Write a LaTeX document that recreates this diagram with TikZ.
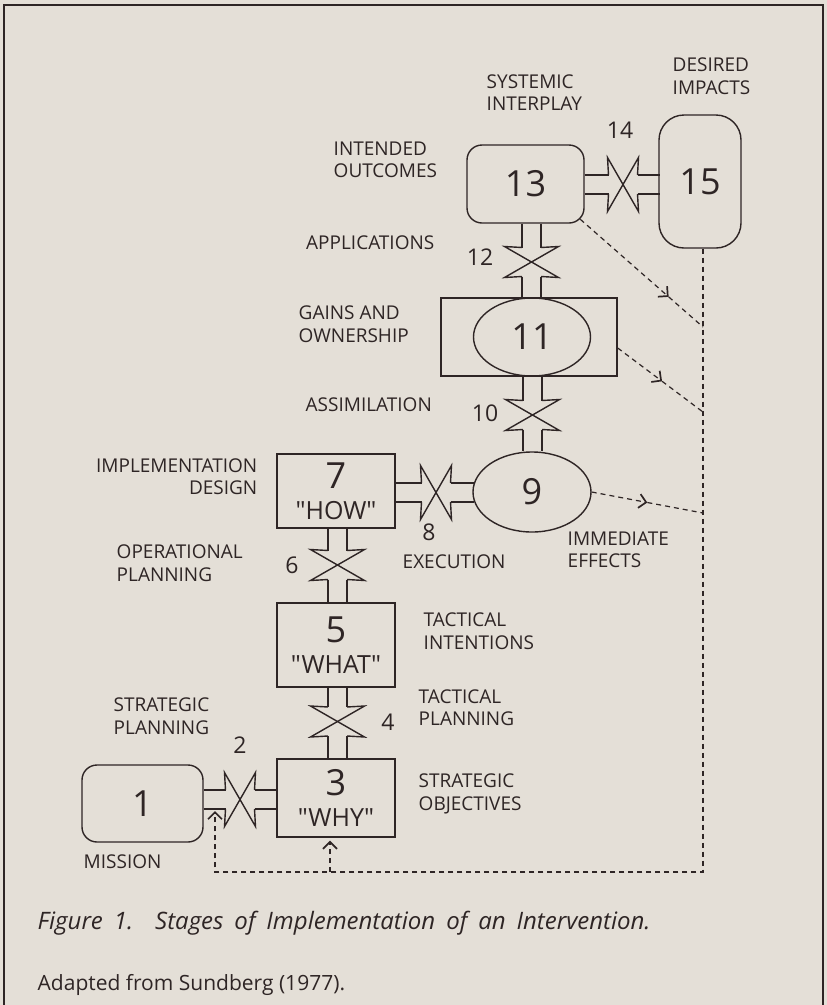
\documentclass[tikz,border=0pt]{standalone}
\usepackage{fontspec}
\setmainfont{Open Sans}[Ligatures=TeXOff]
\usepackage{xcolor}
\definecolor{Paper}{HTML}{E4DFD7}
\definecolor{Ink}{HTML}{2E2525}
\usepackage{tikz}
\usetikzlibrary{calc,arrows.meta,shapes.geometric}

\newcommand{\stagenum}{\fontsize{36}{31}\selectfont}

\tikzset{pics/valve/.style={code={
 \draw (-14.5,-9.5) -- (-15.5,-27) -- (15.5,27) -- (14.5,9.5);
 \draw (14.5,-9.5) -- (15.5,-27) -- (-15.5,27) -- (-14.5,9.5);
}}}

\begin{document}
\begin{tikzpicture}[x=1pt,y=-1pt,color=Ink,line width=1.4pt,
 box/.style={draw,rectangle,inner sep=0pt,align=center,font=\fontsize{25}{31}\selectfont},
 rbox/.style={draw,rectangle,rounded corners=15pt,inner sep=0pt,font=\stagenum},
 oval/.style={draw,ellipse,inner sep=0pt,font=\stagenum},
 lbl/.style={inner sep=0pt,font=\fontsize{19}{22.5}\selectfont},
 num/.style={inner sep=0pt,font=\fontsize{23}{23}\selectfont},
 flow/.style={line width=1.2pt,dash pattern=on 5pt off 4pt},
 tip/.style={-{Straight Barb[length=7pt,width=14pt,line width=1.7pt]}}]
\useasboundingbox (0,0) rectangle (827,1005);
\fill[Paper] (0,0) rectangle (827,1005);
\draw[line width=2.2pt] (4,1012) -- (4,5) -- (823,5) -- (823,1012);

% stages
\node[rbox,minimum width=121pt,minimum height=77pt] (n1) at (142.5,803.5) {1};
\node[box,minimum width=118pt,minimum height=78pt] (n3) at (336,798) {{\stagenum 3}\\"WHY"};
\node[box,minimum width=118pt,minimum height=84pt] (n5) at (336,645) {{\stagenum 5}\\"WHAT"};
\node[box,minimum width=118pt,minimum height=74pt] (n7) at (336,491) {{\stagenum 7}\\"HOW"};
\node[oval,minimum width=118pt,minimum height=80pt] (n9) at (532,492) {9};
\node[draw,rectangle,minimum width=176pt,minimum height=78pt] (n11box) at (529,337) {};
\node[oval,minimum width=117pt,minimum height=78pt] (n11) at (532,337) {11};
\node[rbox,minimum width=117pt,minimum height=78pt] (n13) at (525.5,184) {13};
\node[rbox,rounded corners=25pt,minimum width=82pt,minimum height=133pt] (n15) at (700,181.5) {15};

% valves
\coordinate (v2) at (240,799.5);
\coordinate (v4) at (337.5,721.5);
\coordinate (v6) at (337.5,565);
\coordinate (v8) at (436,492.5);
\coordinate (v10) at (532.5,415);
\coordinate (v12) at (531.5,262);
\coordinate (v14) at (623,184.5);
\foreach \a/\b/\v in {n1/n3/v2,n7/n9/v8,n13/n15/v14} {
 \pic at (\v) {valve};
 \foreach \s in {-9.5,9.5}
  \draw ($(\a.east |- \v)+(0,\s)$) -- ($(\v)+(-14.5,\s)$)
        ($(\v)+(14.5,\s)$) -- ($(\b.west |- \v)+(1.5,\s)$);
}
\foreach \a/\b/\v in {n5/n3/v4,n7/n5/v6,n11box/n9/v10,n13/n11box/v12} {
 \pic[rotate=90] at (\v) {valve};
 \foreach \s in {-9.5,9.5}
  \draw ($(\a.south -| \v)+(\s,0)$) -- ($(\v)+(\s,-14.5)$)
        ($(\v)+(\s,14.5)$) -- ($(\b.north -| \v)+(\s,0)$);
}

% feedback
\coordinate (s13) at ($(n13.south east)+(-4.4,-4.4)$);
\coordinate (s11) at ($(n11box.east)+(0,11)$);
\coordinate (j13) at (703,327);
\coordinate (j11) at (703,412);
\coordinate (j9) at (703,513);
\coordinate (jb) at (703,872);
\coordinate (jl) at (215,872);
\coordinate (jm) at (330,872);
\coordinate (a13) at ($(s13)!0.72!(j13)$);
\coordinate (a11) at ($(s11)!0.52!(j11)$);
\coordinate (a9) at ($(n9.east)!0.5!(j9)$);
\draw[flow,tip] (s13) -- (a13);
\draw[flow] (a13) -- (j13);
\draw[flow,tip] (s11) -- (a11);
\draw[flow] (a11) -- (j11);
\draw[flow,tip] (n9.east) -- (a9);
\draw[flow] (a9) -- (j9);
\draw[flow,tip] (n15.south -| jb) -- (jb) -- (jl) -- ($(jl |- v2)+(0,11.5)$);
\draw[flow,tip,shorten >=3pt] (jm) -- (jm |- n3.south);

% labels
\node[lbl,anchor=west,align=left] (lSystemic) at (486,92.5) {SYSTEMIC\\INTERPLAY};
\node[lbl,anchor=west,align=left] (lDesired) at (672,76) {DESIRED\\IMPACTS};
\node[lbl,anchor=west,align=left] (lIntended) at (333,160) {INTENDED\\OUTCOMES};
\node[lbl,anchor=east] (lApplications) at (435,243) {APPLICATIONS};
\node[lbl,anchor=west,align=left] (lGains) at (298,324) {GAINS AND\\OWNERSHIP};
\node[lbl,anchor=west] (lAssimilation) at (305,405) {ASSIMILATION};
\node[lbl,anchor=east,align=right] (lDesign) at (258,476.5) {IMPLEMENTATION\\DESIGN};
\node[lbl,anchor=west,align=left] (lOperational) at (116,563) {OPERATIONAL\\PLANNING};
\node[lbl,anchor=west] (lExecution) at (402,562) {EXECUTION};
\node[lbl,anchor=west,align=left] (lEffects) at (567,550) {IMMEDIATE\\EFFECTS};
\node[lbl,anchor=west,align=left] (lIntentions) at (423,631) {TACTICAL\\INTENTIONS};
\node[lbl,anchor=west,align=left] (lTactical) at (418,707.5) {TACTICAL\\PLANNING};
\node[lbl,anchor=west,align=left] (lObjectives) at (418,794) {STRATEGIC\\OBJECTIVES};
\node[lbl,anchor=west,align=left] (lStrategic) at (113,716) {STRATEGIC\\PLANNING};
\node[lbl,anchor=west] (lMission) at (83,862) {MISSION};
\node[num] (c2) at (240,745) {2};
\node[num] (c4) at (388,722) {4};
\node[num] (c6) at (292,565) {6};
\node[num] (c8) at (429,532) {8};
\node[num] (c10) at (485,413) {10};
\node[num] (c12) at (480,257) {12};
\node[num] (c14) at (620,130) {14};

% caption
\node[anchor=west,inner sep=0pt,font={\fontsize{24}{24}\selectfont\itshape\spaceskip 11pt\relax}] (caption) at (37,923)
 {Figure 1.\hspace{22pt}Stages of Implementation of an Intervention.};
\node[anchor=west,inner sep=0pt,font=\fontsize{21}{21}\selectfont] (source) at (37,985)
 {Adapted from Sundberg (1977).};
\end{tikzpicture}
\end{document}
